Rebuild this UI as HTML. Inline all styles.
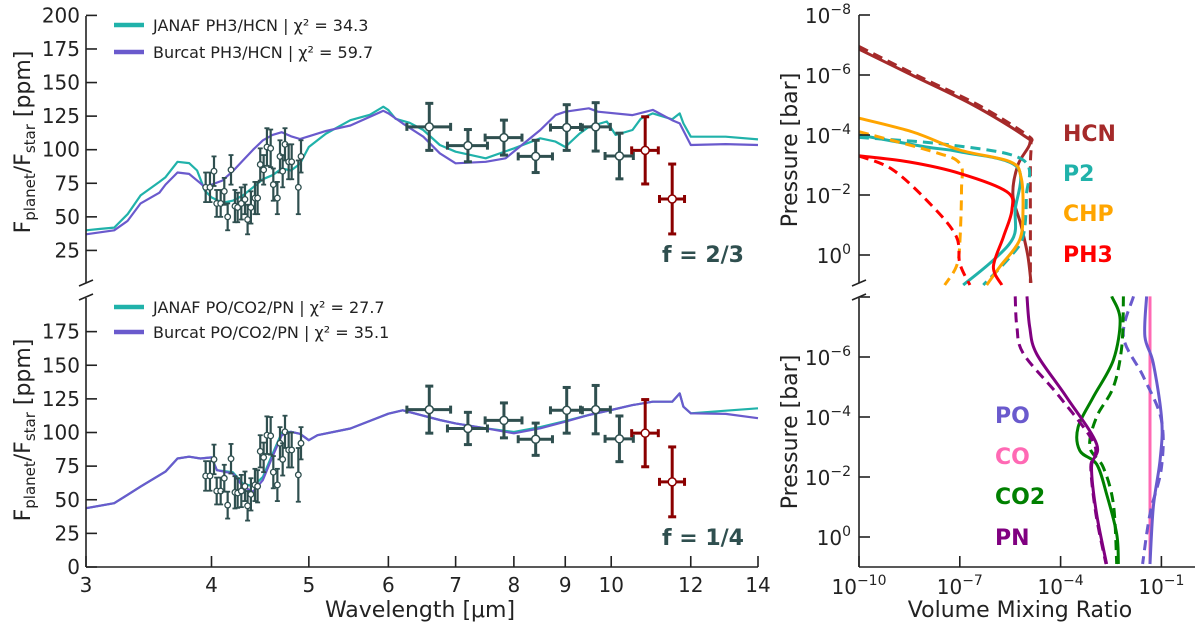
<!DOCTYPE html>
<html><head><meta charset="utf-8"><style>
body{margin:0;background:#fff}
svg{display:block;font-family:"DejaVu Sans","Liberation Sans",sans-serif}
</style></head><body>
<svg id="c" width="1200" height="630" viewBox="0 0 1200 630"></svg>
<script>
// ---- spectra data (wavelength um, ppm) ----
const topTealW=[3.0,3.1,3.2,3.3,3.4,3.55,3.6,3.7,3.8,3.87,3.94,4.0,4.1,4.2,4.3,4.4,4.5,4.6,4.7,4.8,4.9,5.0,5.2,5.5,5.75,5.93,6.0,6.1,6.3,6.5,6.75,7.0,7.5,8.0,8.5,8.8,9.0,9.3,9.5,9.9,10.1,10.5,10.7,11.0,11.5,11.7,11.8,12.0,13.0,14.0];
const topTealV=[40,41,42,52,66,76,79.5,91,90,84.5,69.5,64.5,60.5,62,66,72,78,81,86,84.5,89.5,102,112,122,126,132,129.5,123,120,114.7,103.5,98.5,93.6,101,108.5,106,102,112,117,121,111,114.7,123,127,122.6,127,119.6,109.7,109.7,107.7];
const topBurW=[3.0,3.2,3.3,3.4,3.55,3.6,3.7,3.8,3.9,3.94,4.0,4.1,4.2,4.3,4.4,4.5,4.6,4.7,4.8,4.9,5.0,5.2,5.5,5.93,6.0,6.2,6.5,6.75,7.0,7.5,7.85,8.5,8.8,9.0,9.5,9.7,10.5,11.0,11.5,11.7,12.0,13.0,14.0];
const topBurV=[37,40,47,60,68,74,83,82,75,72,74,77,84,92,100,107,111,113,110,108,110,114,118,129,127,119.6,109.7,97.3,89.9,91,93.6,114.7,125.8,128.3,130.8,128.3,125.8,129.6,122,119.6,103.5,104.2,103.5];
const botTealW=[3.0,3.2,3.4,3.6,3.7,3.8,3.9,4.0,4.05,4.2,4.3,4.4,4.5,4.6,4.7,4.8,4.9,5.0,5.1,5.5,6.0,6.2,6.75,7.0,7.5,8.0,8.5,9.0,9.5,10.0,10.5,11.0,11.5,11.7,11.8,12.0,13.0,14.0];
const botTealV=[43.7,47.4,59.8,70.9,80.7,82,80.7,81.5,72,70.5,62,60,67,84,100,100.5,99,94.3,98,103,114,116.5,109.3,106.8,103.1,100.4,104,108.5,113,116.7,120.4,122.9,122.9,129.1,119.2,114.3,116.2,118];
const botBurW=botTealW;
const botBurV=[43.7,47.4,59.8,70.9,80.7,82,80.7,81.5,72,69.6,59.8,56,64.7,82,98,100.5,99,94.3,98,103,114,116.5,109.3,106.8,103.1,99.4,103.1,108,113,116.7,120.4,122.9,122.9,129.1,119.2,114.3,113.8,110.6];
// ---- observations ----
const smW=[3.947,3.986,4.023,4.048,4.085,4.119,4.151,4.183,4.221,4.247,4.283,4.319,4.345,4.378,4.419,4.446,4.473,4.508,4.542,4.581,4.609,4.652,4.680,4.709,4.734,4.774,4.807,4.881,4.911];
const smTopV=[72,72,84,60,60,69,50,85,58,57,60,63,48,57,64,64,89,85,102,101,74,64,95,84,104,91,91,72,95];
const smBotV=[67.7,67.7,80,56.5,56.5,66,46,80.5,55.5,55,56.5,60,45.5,54,61,60,86,81.5,98,97.5,70.5,61,92,80,100.5,87,87,68.5,92];
const smErr=[11,11,11,10,10,10,10,11,12,11,12,11,11,12,12,12,12,11,14,14,12,12,12,12,12,13,13,20,12];
const bigW=[6.59,7.20,7.82,8.41,9.03,9.65,10.19];
const bigV=[117,103,109,95,116.5,117,95.3];
const bigErr=[17.5,12,13,12,17,18,17];
const redW=[10.81,11.50];
const redV=[99.5,63.3];
const redErr=[25,26];
const xErrW=0.33;
const xTicks=[3,4,5,6,7,8,9,10,12,14];
const yTicks=[0,25,50,75,100,125,150,175,200];
// ---- vertical profiles: [log10 P, log10 VMR] ----
const prof={
hcnS:[[-6.86,-10],[-6,-8.43],[-5,-6.6],[-4,-5.12],[-3.7,-4.92],[-3,-5.27],[-2,-5.42],[-1,-5.18],[0,-4.98],[0.93,-4.88]],
hcnD:[[-6.95,-10],[-6,-8.3],[-5,-6.45],[-4,-5.0],[-3.7,-4.88],[-3,-4.9],[-1,-4.9],[0.93,-4.9]],
p2S:[[-4.0,-10],[-3.6,-8.0],[-3.44,-7.0],[-2.94,-5.3],[-1.5,-5.35],[-0.6,-5.4],[0.17,-6.0],[1.0,-6.9]],
p2D:[[-3.92,-10],[-3.67,-7.29],[-3.17,-5.12],[-1.94,-5.02],[-0.61,-5.12],[0.06,-5.5],[1.0,-6.3]],
chpS:[[-4.56,-10],[-4.1,-8.4],[-3.5,-7.0],[-3.11,-5.5],[-2.6,-5.18],[-1.5,-5.12],[-0.5,-5.22],[0.38,-5.8],[1.0,-6.2]],
chpD:[[-4.11,-10],[-3.44,-7.79],[-3.05,-7.0],[-2.17,-6.95],[-0.39,-7.0],[0.38,-7.1],[1.0,-7.45]],
ph3S:[[-3.31,-10],[-3.1,-8.5],[-2.72,-7.0],[-2.11,-5.6],[-1.5,-5.45],[-0.61,-5.7],[0.39,-6.0],[1.0,-5.75]],
ph3D:[[-3.3,-10],[-2.83,-8.98],[-1.61,-7.8],[-0.61,-7.1],[0.28,-7.0],[1.0,-6.7]],
pnS:[[-8.02,-5.0],[-7,-4.92],[-6.1,-4.71],[-4.66,-3.82],[-3.1,-2.93],[-2.32,-3.08],[-0.77,-2.93],[0.9,-2.63]],
pnD:[[-8.02,-5.35],[-7,-5.3],[-6.1,-5.1],[-4.66,-4.02],[-3.1,-3.0],[-2.32,-3.1],[-0.77,-2.95],[0.9,-2.65]],
co2S:[[-8.02,-2.48],[-7.25,-2.23],[-5.9,-2.43],[-4.66,-3.03],[-3.66,-3.48],[-2.88,-3.43],[-2.43,-2.93],[-1.43,-2.63],[-0.1,-2.33],[0.9,-2.28]],
co2D:[[-8.02,-2.13],[-6.35,-2.18],[-5.0,-2.43],[-4.0,-2.93],[-3.0,-3.13],[-2.32,-2.73],[-1.1,-2.43],[0.9,-2.33]],
poS:[[-8.02,-1.44],[-6.68,-1.49],[-5.79,-1.24],[-3.9,-0.99],[-2.57,-1.04],[-1.0,-1.24],[0.9,-1.34]],
poD:[[-8.02,-1.83],[-6.68,-2.13],[-5.35,-1.54],[-3.9,-1.0],[-2.3,-1.0],[-0.77,-1.34],[0.9,-1.56]],
coS:[[-8.02,-1.34],[0.9,-1.34]]
};
// ---- scales ----
const X0=86,X1=758;
const sx=w=>X0+(X1-X0)*Math.log(w/3)/Math.log(14/3);
const syT=v=>284-1.343*v;
const syB=v=>567-1.345*v;
const rx=l=>859+33.6*(l+10);
const ryT=l=>15+30*(l+8);
const ryB=l=>297+30*(l+8);
const svg=document.getElementById('c');
const NS='http://www.w3.org/2000/svg';
function mk(tag,at,parent){const e=document.createElementNS(NS,tag);for(const k in at)e.setAttribute(k,at[k]);(parent||svg).appendChild(e);return e;}
function txt(s,x,y,at,parent){const e=mk('text',Object.assign({x:x,y:y},at),parent);e.textContent=s;return e;}
function grp(name){const g=mk('g',{});return g;}
const teal='#20b2aa',pur='#6a5acd',dk='#2f4f4f',rd='#8b0000',ax='#222';
function smooth(pts){if(pts.length<3)return 'M'+pts.map(p=>p[0].toFixed(1)+' '+p[1].toFixed(1)).join('L');
 let d='M'+pts[0][0].toFixed(1)+' '+pts[0][1].toFixed(1);
 for(let i=0;i<pts.length-1;i++){const p0=pts[Math.max(0,i-1)],p1=pts[i],p2=pts[i+1],p3=pts[Math.min(pts.length-1,i+2)];
  const c1=[p1[0]+(p2[0]-p0[0])/6,p1[1]+(p2[1]-p0[1])/6],c2=[p2[0]-(p3[0]-p1[0])/6,p2[1]-(p3[1]-p1[1])/6];
  d+='C'+c1[0].toFixed(1)+' '+c1[1].toFixed(1)+' '+c2[0].toFixed(1)+' '+c2[1].toFixed(1)+' '+p2[0].toFixed(1)+' '+p2[1].toFixed(1);}
 return d;}
// spectra lines
function line(W,V,sy,col,name){const g=grp(name);let d='';W.forEach((w,i)=>{d+=(i?'L':'M')+sx(w).toFixed(1)+' '+sy(V[i]).toFixed(1);});mk('path',{d:d,fill:'none',stroke:col,'stroke-width':2.2,'stroke-linejoin':'round'},g);}
line(topTealW,topTealV,syT,teal,'janaf-ph3-hcn-line');
line(topBurW,topBurV,syT,pur,'burcat-ph3-hcn-line');
line(botTealW,botTealV,syB,teal,'janaf-po-co2-pn-line');
line(botBurW,botBurV,syB,pur,'burcat-po-co2-pn-line');
// observations
function obs(sy,V,name){
 const g=grp(name);
 smW.forEach((w,i)=>{const x=sx(w),y=sy(V[i]),e=smErr[i]*1.344;
  mk('line',{x1:x,x2:x,y1:y-e,y2:y+e,stroke:dk,'stroke-width':2.2},g);
  mk('line',{x1:x-2.5,x2:x+2.5,y1:y-e,y2:y-e,stroke:dk,'stroke-width':1.8},g);
  mk('line',{x1:x-2.5,x2:x+2.5,y1:y+e,y2:y+e,stroke:dk,'stroke-width':1.8},g);
  mk('circle',{cx:x,cy:y,r:2.8,fill:'#fff',stroke:dk,'stroke-width':1.3},g);});
 function big(W,VV,E,col){W.forEach((w,i)=>{const x=sx(w),y=sy(VV[i]),e=E[i]*1.344,xl=sx(w-xErrW),xr=sx(w+xErrW);
  mk('line',{x1:x,x2:x,y1:y-e,y2:y+e,stroke:col,'stroke-width':3},g);
  mk('line',{x1:xl,x2:xr,y1:y,y2:y,stroke:col,'stroke-width':3},g);
  mk('line',{x1:x-4,x2:x+4,y1:y-e,y2:y-e,stroke:col,'stroke-width':3},g);
  mk('line',{x1:x-4,x2:x+4,y1:y+e,y2:y+e,stroke:col,'stroke-width':3},g);
  mk('line',{x1:xl,x2:xl,y1:y-4,y2:y+4,stroke:col,'stroke-width':3},g);
  mk('line',{x1:xr,x2:xr,y1:y-4,y2:y+4,stroke:col,'stroke-width':3},g);
  mk('circle',{cx:x,cy:y,r:4,fill:'#fff',stroke:col,'stroke-width':1.5},g);});}
 big(bigW,bigV,bigErr,dk);big(redW,redV,redErr,rd);
}
obs(syT,smTopV,'observations-top');
obs(syB,smBotV,'observations-bottom');
// left axes
const ga=grp('left-axes');
mk('line',{x1:X0,x2:X0,y1:16,y2:283,stroke:ax,'stroke-width':1.6},ga);
mk('line',{x1:X0,x2:X0,y1:298,y2:567,stroke:ax,'stroke-width':1.6},ga);
mk('line',{x1:X0,x2:X1,y1:567,y2:567,stroke:ax,'stroke-width':1.6},ga);
mk('line',{x1:X0-7,x2:X0+7,y1:286,y2:280,stroke:ax,'stroke-width':1.6},ga);
mk('line',{x1:X0-7,x2:X0+7,y1:300,y2:294,stroke:ax,'stroke-width':1.6},ga);
yTicks.forEach(v=>{
 if(v>0){const y=syT(v);mk('line',{x1:X0,x2:X0+11,y1:y,y2:y,stroke:ax,'stroke-width':1.6},ga);
 txt(String(v),X0-6,y+7,{'font-size':20,'text-anchor':'end',fill:ax},ga);}
 if(v<200){const y=syB(v);mk('line',{x1:X0,x2:X0+11,y1:y,y2:y,stroke:ax,'stroke-width':1.6},ga);
 txt(String(v),X0-6,y+7,{'font-size':20,'text-anchor':'end',fill:ax},ga);}
});
xTicks.forEach(w=>{const x=sx(w);mk('line',{x1:x,x2:x,y1:567,y2:556,stroke:ax,'stroke-width':1.6},ga);
 txt(String(w),x,592,{'font-size':20,'text-anchor':'middle',fill:ax},ga);});
txt('Wavelength [μm]',420,617,{'font-size':22,'text-anchor':'middle',fill:ax},ga);
function ylab(cy){const t=mk('text',{x:0,y:0,'font-size':22,fill:ax,'text-anchor':'middle',transform:`translate(30,${cy}) rotate(-90)`},ga);
 t.innerHTML='F<tspan font-size="15" dy="5">planet</tspan><tspan dy="-5">/F</tspan><tspan font-size="15" dy="5">star</tspan><tspan dy="-5"> [ppm]</tspan>';}
ylab(142);ylab(430);
// legends
function leg(y,col,s,name){const g=grp(name);mk('line',{x1:114,x2:144,y1:y,y2:y,stroke:col,'stroke-width':4.5},g);txt(s,153,y+6,{'font-size':16,fill:ax},g);}
leg(25,teal,'JANAF PH3/HCN | χ² = 34.3','legend-janaf-ph3-hcn');
leg(52,pur,'Burcat PH3/HCN | χ² = 59.7','legend-burcat-ph3-hcn');
leg(307,teal,'JANAF PO/CO2/PN | χ² = 27.7','legend-janaf-po-co2-pn');
leg(332,pur,'Burcat PO/CO2/PN | χ² = 35.1','legend-burcat-po-co2-pn');
txt('f = 2/3',703,262,{'font-size':22,'font-weight':'bold','text-anchor':'middle',fill:dk});
txt('f = 1/4',703,545,{'font-size':22,'font-weight':'bold','text-anchor':'middle',fill:dk});
// profiles
function pl(key,ry,col,dash,name){const g=grp(name);const P=prof[key].map(p=>[rx(p[1]),ry(p[0])]);
 const a={d:smooth(P),fill:'none',stroke:col,'stroke-width':3,'stroke-linejoin':'round'};if(dash)a['stroke-dasharray']='10 6';mk('path',a,g);}
const brown='#a52a2a',orng='#ffa500',red='#ff0000',purp='#800080',grn='#008000',pink='#ff69b4';
pl('hcnD',ryT,brown,1,'hcn-burcat');pl('hcnS',ryT,brown,0,'hcn-janaf');
pl('p2D',ryT,teal,1,'p2-burcat');pl('p2S',ryT,teal,0,'p2-janaf');
pl('chpD',ryT,orng,1,'chp-burcat');pl('chpS',ryT,orng,0,'chp-janaf');
pl('ph3D',ryT,red,1,'ph3-burcat');pl('ph3S',ryT,red,0,'ph3-janaf');
pl('coS',ryB,pink,0,'co-profile');
pl('poD',ryB,pur,1,'po-burcat');pl('poS',ryB,pur,0,'po-janaf');
pl('co2D',ryB,grn,1,'co2-burcat');pl('co2S',ryB,grn,0,'co2-janaf');
pl('pnD',ryB,purp,1,'pn-burcat');pl('pnS',ryB,purp,0,'pn-janaf');
// right axes
const gr=grp('right-axes');const RX=859;
mk('line',{x1:RX,x2:RX,y1:15,y2:283,stroke:ax,'stroke-width':1.6},gr);
mk('line',{x1:RX,x2:RX,y1:298,y2:567,stroke:ax,'stroke-width':1.6},gr);
mk('line',{x1:RX,x2:1195,y1:567,y2:567,stroke:ax,'stroke-width':1.6},gr);
mk('line',{x1:RX-7,x2:RX+7,y1:286,y2:280,stroke:ax,'stroke-width':1.6},gr);
mk('line',{x1:RX-7,x2:RX+7,y1:300,y2:294,stroke:ax,'stroke-width':1.6},gr);
function pw(e,x,y,anchor){const t=mk('text',{x:x,y:y,'font-size':20,fill:ax,'text-anchor':anchor},gr);t.innerHTML='10<tspan font-size="14" dy="-9">−'+e+'</tspan>';return t;}
[-8,-6,-4,-2,0].forEach(l=>{let y=ryT(l);mk('line',{x1:RX,x2:RX+11,y1:y,y2:y,stroke:ax,'stroke-width':1.6},gr);
 const t=mk('text',{x:RX-8,y:y+8,'font-size':20,fill:ax,'text-anchor':'end'},gr);t.innerHTML=l?'10<tspan font-size="14" dy="-9">−'+(-l)+'</tspan>':'10<tspan font-size="14" dy="-9">0</tspan>';
 y=ryB(l);mk('line',{x1:RX,x2:RX+11,y1:y,y2:y,stroke:ax,'stroke-width':1.6},gr);
 if(l>-8){const t2=mk('text',{x:RX-8,y:y+8,'font-size':20,fill:ax,'text-anchor':'end'},gr);t2.innerHTML=l?'10<tspan font-size="14" dy="-9">−'+(-l)+'</tspan>':'10<tspan font-size="14" dy="-9">0</tspan>';}});
[-10,-7,-4,-1].forEach(l=>{const x=rx(l);mk('line',{x1:x,x2:x,y1:567,y2:556,stroke:ax,'stroke-width':1.6},gr);pw(-l,x,594,'middle');});
txt('Volume Mixing Ratio',1020,617,{'font-size':22,'text-anchor':'middle',fill:ax},gr);
mk('text',{x:0,y:0,'font-size':22,fill:ax,'text-anchor':'middle',transform:'translate(797,150) rotate(-90)'},gr).textContent='Pressure [bar]';
mk('text',{x:0,y:0,'font-size':22,fill:ax,'text-anchor':'middle',transform:'translate(797,432) rotate(-90)'},gr).textContent='Pressure [bar]';
function sl(s,x,y,col,name){const t=txt(s,x,y,{'font-size':22,'font-weight':'bold',fill:col});}
sl('HCN',1063,141,brown,'label-hcn');sl('P2',1063,181,teal,'label-p2');sl('CHP',1063,221,orng,'label-chp');sl('PH3',1063,262,red,'label-ph3');
sl('PO',995,423,pur,'label-po');sl('CO',995,464,pink,'label-co');sl('CO2',995,504,grn,'label-co2');sl('PN',995,545,purp,'label-pn');
</script>
</body></html>
